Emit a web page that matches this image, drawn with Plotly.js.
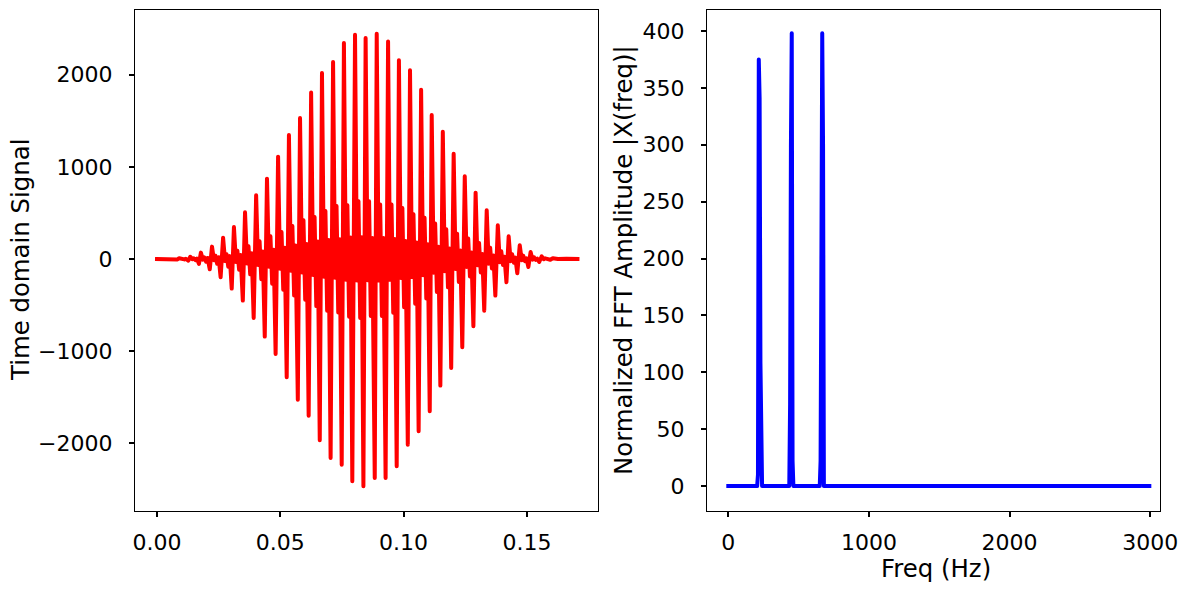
<!DOCTYPE html>
<html>
<head>
<meta charset="utf-8">
<script src="https://cdn.plot.ly/plotly-3.0.1.min.js"></script>
<style>
  html, body { margin: 0; padding: 0; background: #fff; }
  #chart { width: 1188px; height: 590px; }
  /* round joins and square caps for the thick traces */
  .js-line { stroke-linejoin: round !important; stroke-linecap: square !important; }
</style>
</head>
<body>
<div id="chart"></div>
<script>
// Time-domain signal: turning points of each cycle (seconds, amplitude)
const sampleTime = [
  0, 0.0040, 0.0046, 0.0060,
  0.0083, 0.0090, 0.0098, 0.0104, 0.0111, 0.0117,
  0.0127, 0.0135, 0.0143, 0.0149, 0.0156, 0.0162,
  0.0170, 0.0178, 0.0186, 0.0192, 0.0199, 0.0205,
  0.0214, 0.0223, 0.0231, 0.0237, 0.0244, 0.0250,
  0.0258, 0.0268, 0.0276, 0.0282, 0.0289, 0.0295,
  0.0303, 0.0312, 0.0320, 0.0326, 0.0333, 0.0339,
  0.0348, 0.0357, 0.0365, 0.0371, 0.0378, 0.0384,
  0.0392, 0.0402, 0.0410, 0.0416, 0.0423, 0.0429,
  0.0437, 0.0446, 0.0454, 0.0460, 0.0467, 0.0473,
  0.0481, 0.0491, 0.0499, 0.0505, 0.0512, 0.0518,
  0.0526, 0.0535, 0.0543, 0.0549, 0.0556, 0.0562,
  0.0571, 0.0580, 0.0588, 0.0594, 0.0601, 0.0607,
  0.0615, 0.0625, 0.0633, 0.0639, 0.0646, 0.0652,
  0.0660, 0.0669, 0.0677, 0.0683, 0.0690, 0.0696,
  0.0704, 0.0714, 0.0722, 0.0728, 0.0735, 0.0741,
  0.0749, 0.0758, 0.0766, 0.0772, 0.0779, 0.0785,
  0.0792, 0.0803, 0.0811, 0.0817, 0.0824, 0.0830,
  0.0837, 0.0846, 0.0854, 0.0860, 0.0867, 0.0873,
  0.0883, 0.0891, 0.0899, 0.0905, 0.0912, 0.0918,
  0.0927, 0.0937, 0.0945, 0.0951, 0.0958, 0.0964,
  0.0972, 0.0981, 0.0989, 0.0995, 0.1002, 0.1008,
  0.1017, 0.1026, 0.1034, 0.1040, 0.1047, 0.1053,
  0.1061, 0.1071, 0.1079, 0.1085, 0.1092, 0.1098,
  0.1106, 0.1114, 0.1122, 0.1128, 0.1135, 0.1141,
  0.1149, 0.1159, 0.1167, 0.1173, 0.1180, 0.1186,
  0.1193, 0.1203, 0.1211, 0.1217, 0.1224, 0.1230,
  0.1238, 0.1248, 0.1256, 0.1262, 0.1269, 0.1275,
  0.1283, 0.1292, 0.1300, 0.1306, 0.1313, 0.1319,
  0.1327, 0.1337, 0.1345, 0.1351, 0.1358, 0.1364,
  0.1372, 0.1382, 0.1390, 0.1396, 0.1403, 0.1409,
  0.1417, 0.1426, 0.1434, 0.1440, 0.1447, 0.1453,
  0.1461, 0.1471, 0.1479, 0.1485, 0.1492, 0.1498,
  0.1506, 0.1515, 0.1523, 0.1529, 0.1536, 0.1542,
  0.1550, 0.1560, 0.1568, 0.1574, 0.1581, 0.1587,
  0.1595, 0.1605, 0.1613, 0.1619, 0.1626, 0.1632,
  0.1650, 0.1660, 0.1705
];
const sampleValue = [
  0, -2, 3, 0,
  -5, 8, -1, 2, -5, 2,
  -18, 24, -2, 6, -14, 5,
  -54, 69, -7, 17, -29, 11,
  -112, 134, -13, 35, -52, 19,
  -199, 231, -22, 51, -84, 31,
  -322, 347, -33, 90, -118, 43,
  -452, 507, -49, 138, -167, 62,
  -641, 692, -66, 192, -219, 81,
  -843, 872, -84, 246, -268, 99,
  -1031, 1111, -107, 293, -334, 123,
  -1285, 1346, -129, 358, -397, 147,
  -1528, 1531, -147, 420, -442, 163,
  -1701, 1806, -173, 456, -512, 189,
  -1969, 2020, -194, 521, -562, 207,
  -2161, 2139, -205, 575, -581, 214,
  -2233, 2345, -225, 583, -628, 232,
  -2414, 2435, -234, 626, -642, 237,
  -2468, 2400, -230, 626, -618, 228,
  -2378, 2446, -235, 590, -618, 228,
  -2378, 2360, -227, 590, -585, 216,
  -2251, 2157, -207, 554, -524, 194,
  -2016, 2049, -197, 485, -486, 180,
  -1871, 1838, -176, 448, -430, 159,
  -1654, 1564, -150, 384, -358, 132,
  -1375, 1382, -133, 322, -308, 114,
  -1183, 1143, -110, 275, -249, 92,
  -959, 898, -86, 221, -190, 70,
  -731, 720, -69, 174, -146, 54,
  -561, 529, -51, 123, -103, 38,
  -398, 366, -35, 84, -66, 24,
  -253, 246, -24, 51, -40, 15,
  -155, 149, -14, 35, -23, 8,
  -87, 76, -7, 18, -9, 3,
  -33, 29, -3, 7, -2, 1,
  -8, 8, -1, 2, -1, 0,
  -3, 2, 0
];

// Spectrum: frequency bins (Hz) and normalized FFT magnitude
const freqHz = [0, 205.08, 210.94, 216.80, 222.66, 228.52, 234.38, 240.23,
                433.59, 439.45, 445.31, 451.17, 457.03, 462.89,
                650.39, 656.25, 662.11, 667.97, 673.83, 679.69, 2994.14];
const fftAmp = [0, 0, 10, 375, 341, 108, 3, 0,
                0, 72, 298, 398, 22, 0,
                0, 22, 200, 398, 298, 0, 0];

// Tick values
const timeTicks = [0, 0.05, 0.10, 0.15];
const signalTicks = [-2000, -1000, 0, 1000, 2000];
const freqTicks = [0, 1000, 2000, 3000];
const ampTicks = [0, 50, 100, 150, 200, 250, 300, 350, 400];

const W = 1188, H = 590;
const px = (a, b) => [a / W, b / W];
const py = (top, bottom) => [(H - bottom) / H, (H - top) / H];

const tickFont = { family: 'DejaVu Sans', size: 22, color: '#000' };
const titleFont = { family: 'DejaVu Sans', size: 24.4, color: '#000' };

const axisBase = {
  showgrid: false, zeroline: false,
  showline: true, mirror: true, linecolor: '#000', linewidth: 1.2,
  ticks: 'outside', ticklen: 5, tickwidth: 2, tickcolor: '#000',
  tickfont: tickFont
};
const xAxisBase = Object.assign({}, axisBase, { ticklabelstandoff: 7 });
const yAxisBase = Object.assign({}, axisBase, { ticklabelstandoff: 12 });

const traces = [
  {
    x: sampleTime, y: sampleValue, type: 'scatter', mode: 'lines',
    line: { color: '#ff0000', width: 4 }, xaxis: 'x', yaxis: 'y',
    hoverinfo: 'skip'
  },
  {
    x: freqHz, y: fftAmp, type: 'scatter', mode: 'lines',
    line: { color: '#0000ff', width: 4 }, xaxis: 'x2', yaxis: 'y2',
    hoverinfo: 'skip'
  }
];

const layout = {
  width: W, height: H,
  margin: { l: 0, r: 0, t: 0, b: 0 },
  paper_bgcolor: '#fff', plot_bgcolor: '#fff',
  showlegend: false,
  font: { family: 'DejaVu Sans', color: '#000' },
  xaxis: Object.assign({}, xAxisBase, {
    domain: px(135, 598), range: [-0.00892, 0.17883],
    tickvals: timeTicks, ticktext: timeTicks.map(v => v.toFixed(2))
  }),
  yaxis: Object.assign({}, yAxisBase, {
    domain: py(10, 510.5), range: [-2731, 2703],
    tickvals: signalTicks
  }),
  xaxis2: Object.assign({}, xAxisBase, {
    domain: px(707, 1160), range: [-151.5, 3070], anchor: 'y2',
    tickvals: freqTicks
  }),
  yaxis2: Object.assign({}, yAxisBase, {
    domain: py(10, 510.5), range: [-21.5, 418.5], anchor: 'x2',
    tickvals: ampTicks
  }),
  annotations: [
    { text: 'Time domain Signal', xref: 'paper', yref: 'paper',
      x: 20 / W, y: (H - 260) / H, textangle: -90, showarrow: false,
      xanchor: 'center', yanchor: 'middle', font: titleFont },
    { text: 'Normalized FFT Amplitude |X(freq)|', xref: 'paper', yref: 'paper',
      x: 623 / W, y: (H - 260) / H, textangle: -90, showarrow: false,
      xanchor: 'center', yanchor: 'middle', font: titleFont },
    { text: 'Freq (Hz)', xref: 'paper', yref: 'paper',
      x: 936 / W, y: (H - 568) / H, showarrow: false,
      xanchor: 'center', yanchor: 'middle', font: titleFont }
  ]
};

Plotly.newPlot('chart', traces, layout, { staticPlot: true, displayModeBar: false });
</script>
</body>
</html>
